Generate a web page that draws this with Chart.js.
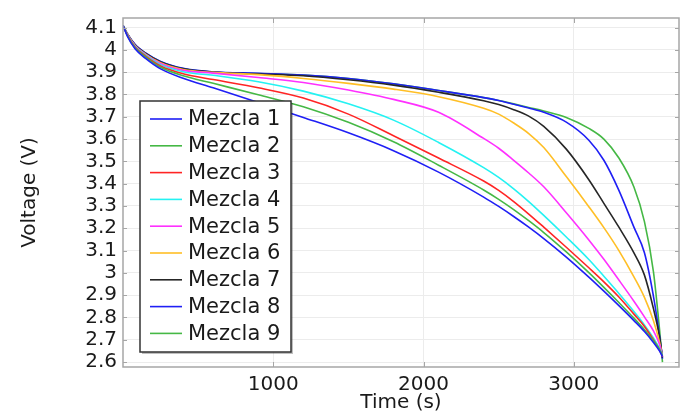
<!DOCTYPE html>
<html>
<head>
<meta charset="utf-8">
<script src="https://cdn.jsdelivr.net/npm/chart.js@4.4.1/dist/chart.umd.min.js"></script>
<style>
  html, body { margin: 0; padding: 0; background: #fff; }
  canvas { display: block; }
</style>
</head>
<body>
<canvas id="voltage-chart" width="685" height="417"></canvas>
<script>
// Discharge curves (time in s, voltage in V)
const timeS   = [0, 30, 80, 150, 250, 400, 600, 900, 1200, 1500, 1800, 2100, 2400, 2500, 2600, 2700, 2800, 2950, 3100, 3200, 3300, 3400, 3470, 3530, 3570, 3590];

const mezcla1 = [4.11, 4.060, 4.005, 3.962, 3.915, 3.873, 3.830, 3.764, 3.697, 3.628, 3.548, 3.452, 3.340, 3.298, 3.253, 3.205, 3.154, 3.071, 2.981, 2.918, 2.853, 2.786, 2.737, 2.688, 2.650, 2.625];
const mezcla2 = [4.11, 4.062, 4.010, 3.968, 3.922, 3.884, 3.850, 3.799, 3.745, 3.675, 3.588, 3.483, 3.372, 3.330, 3.284, 3.234, 3.181, 3.094, 3.001, 2.935, 2.867, 2.797, 2.745, 2.696, 2.658, 2.630];
const mezcla3 = [4.11, 4.065, 4.013, 3.972, 3.928, 3.893, 3.867, 3.830, 3.784, 3.712, 3.615, 3.515, 3.412, 3.370, 3.320, 3.264, 3.205, 3.115, 3.023, 2.960, 2.892, 2.815, 2.760, 2.700, 2.655, 2.625];
const mezcla4 = [4.11, 4.067, 4.016, 3.976, 3.934, 3.902, 3.886, 3.857, 3.815, 3.758, 3.685, 3.585, 3.472, 3.428, 3.377, 3.320, 3.258, 3.161, 3.060, 2.985, 2.908, 2.827, 2.767, 2.708, 2.662, 2.630];
const mezcla5 = [4.11, 4.068, 4.018, 3.979, 3.939, 3.908, 3.896, 3.876, 3.854, 3.820, 3.778, 3.720, 3.603, 3.559, 3.505, 3.448, 3.386, 3.270, 3.148, 3.061, 2.968, 2.873, 2.803, 2.740, 2.680, 2.625];
const mezcla6 = [4.11, 4.069, 4.020, 3.981, 3.942, 3.912, 3.899, 3.889, 3.872, 3.850, 3.824, 3.790, 3.738, 3.712, 3.672, 3.625, 3.562, 3.432, 3.297, 3.203, 3.100, 2.982, 2.890, 2.785, 2.690, 2.625];
const mezcla7 = [4.11, 4.070, 4.022, 3.984, 3.946, 3.915, 3.900, 3.892, 3.884, 3.866, 3.842, 3.810, 3.772, 3.755, 3.732, 3.703, 3.657, 3.555, 3.418, 3.312, 3.205, 3.090, 2.990, 2.840, 2.715, 2.620];
const mezcla8 = [4.11, 4.072, 4.025, 3.986, 3.948, 3.917, 3.902, 3.895, 3.887, 3.872, 3.848, 3.818, 3.786, 3.773, 3.756, 3.739, 3.720, 3.676, 3.595, 3.505, 3.370, 3.205, 3.090, 2.895, 2.720, 2.615];
const mezcla9 = [4.11, 4.070, 4.023, 3.985, 3.947, 3.916, 3.901, 3.894, 3.887, 3.872, 3.848, 3.818, 3.786, 3.773, 3.758, 3.742, 3.726, 3.697, 3.648, 3.600, 3.515, 3.385, 3.230, 3.005, 2.750, 2.600];

const seriesNames  = ['Mezcla 1', 'Mezcla 2', 'Mezcla 3', 'Mezcla 4', 'Mezcla 5', 'Mezcla 6', 'Mezcla 7', 'Mezcla 8', 'Mezcla 9'];
const seriesValues = [mezcla1, mezcla2, mezcla3, mezcla4, mezcla5, mezcla6, mezcla7, mezcla8, mezcla9];
const seriesColors = ['#1f1ff5', '#45b845', '#ff2424', '#24f2f2', '#ff30ff', '#ffbf26', '#262626', '#1f1ff5', '#45b845'];

const timeTicks = [1000, 2000, 3000];
const voltTicks = [2.6, 2.7, 2.8, 2.9, 3.0, 3.1, 3.2, 3.3, 3.4, 3.5, 3.6, 3.7, 3.8, 3.9, 4.0, 4.1];

const FONT = 'DejaVu Sans';
const TEXT = '#1a1a1a';

// frame around the plot, with small inward tick marks
const frameTicks = {
    id: 'frameTicks',
    afterDatasetsDraw(chart) {
        const { ctx, chartArea: a, scales } = chart;
        ctx.save();
        ctx.strokeStyle = '#a6a6a6';
        ctx.lineWidth = 1.5;
        ctx.strokeRect(a.left, a.top, a.right - a.left, a.bottom - a.top);
        ctx.lineWidth = 1;
        ctx.beginPath();
        voltTicks.forEach(v => {
            const y = Math.round(scales.y.getPixelForValue(v)) + 0.5;
            ctx.moveTo(a.left, y); ctx.lineTo(a.left + 4, y);
            ctx.moveTo(a.right, y); ctx.lineTo(a.right - 4, y);
        });
        timeTicks.forEach(t => {
            const x = Math.round(scales.x.getPixelForValue(t)) + 0.5;
            ctx.moveTo(x, a.bottom); ctx.lineTo(x, a.bottom - 5);
            ctx.moveTo(x, a.top); ctx.lineTo(x, a.top + 5);
        });
        ctx.stroke();
        ctx.restore();
    }
};

// boxed legend inside the plot, top-left under the curves
const boxLegend = {
    id: 'boxLegend',
    afterDraw(chart) {
        const { ctx } = chart;
        const box = { x: 140, y: 101, w: 151, h: 251 };
        ctx.save();
        ctx.fillStyle = 'rgba(0,0,0,0.25)';
        ctx.fillRect(box.x + 2, box.y + 2, box.w, box.h);
        ctx.fillStyle = '#fff';
        ctx.fillRect(box.x, box.y, box.w, box.h);
        ctx.strokeStyle = '#333';
        ctx.lineWidth = 1.5;
        ctx.strokeRect(box.x, box.y, box.w, box.h);
        ctx.font = '21px "' + FONT + '"';
        ctx.textBaseline = 'middle';
        ctx.fillStyle = TEXT;
        chart.data.datasets.forEach((ds, i) => {
            const y = 119 + i * 26.8;
            ctx.strokeStyle = ds.borderColor;
            ctx.lineWidth = 1.6;
            ctx.beginPath();
            ctx.moveTo(150, y); ctx.lineTo(182, y);
            ctx.stroke();
            ctx.fillText(ds.label, 188, y + 1);
        });
        ctx.restore();
    }
};

const datasets = seriesNames.map((name, i) => ({
    label: name,
    data: seriesValues[i].map((v, k) => ({ x: timeS[k], y: v })),
    borderColor: seriesColors[i],
    borderWidth: 1.6,
    pointRadius: 0,
    fill: false,
    cubicInterpolationMode: 'monotone'
}));

new Chart(document.getElementById('voltage-chart'), {
    type: 'line',
    data: { datasets },
    plugins: [frameTicks, boxLegend],
    options: {
        responsive: false,
        animation: false,
        devicePixelRatio: 1,
        layout: { padding: { top: 8, right: 6, left: 0, bottom: 0 } },
        plugins: { legend: { display: false }, tooltip: { enabled: false } },
        scales: {
            x: {
                type: 'linear',
                min: 0,
                max: 3700,
                afterBuildTicks: s => { s.ticks = timeTicks.map(v => ({ value: v })); },
                afterFit: s => { s.height = 50; },
                grid: { color: '#ececec', drawTicks: false },
                border: { display: false },
                ticks: {
                    padding: 6,
                    maxRotation: 0,
                    autoSkip: false,
                    color: TEXT,
                    font: { family: FONT, size: 20 },
                    callback: v => String(v)
                },
                title: { display: true, text: 'Time (s)', color: TEXT, font: { family: FONT, size: 20 }, padding: { top: 0, bottom: 2 } }
            },
            y: {
                min: 2.578,
                max: 4.143,
                afterBuildTicks: s => { s.ticks = voltTicks.map(v => ({ value: v })); },
                afterFit: s => { s.width = 123; },
                grid: { color: '#ececec', drawTicks: false },
                border: { display: false },
                ticks: {
                    padding: 6,
                    autoSkip: false,
                    color: TEXT,
                    font: { family: FONT, size: 20 },
                    callback: v => String(+v.toFixed(1))
                },
                title: { display: true, text: 'Voltage (V)', color: TEXT, font: { family: FONT, size: 20 }, padding: { top: 18, bottom: 0 } }
            }
        }
    }
});
</script>
</body>
</html>
